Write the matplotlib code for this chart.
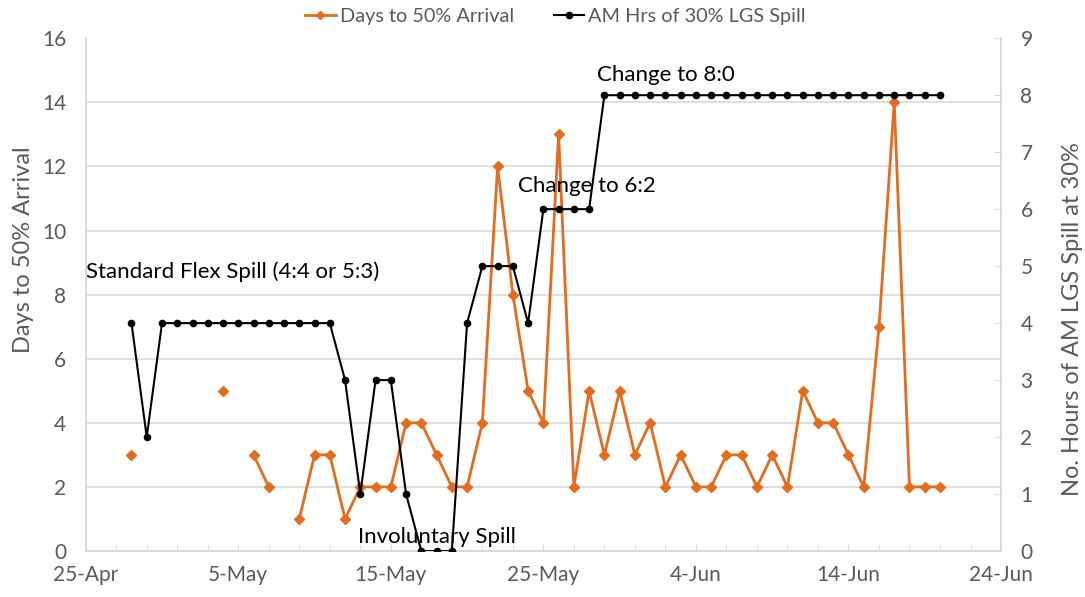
import matplotlib
matplotlib.use("Agg")
import matplotlib.pyplot as plt
import matplotlib.dates as mdates
from matplotlib.lines import Line2D
import numpy as np
import pandas as pd

plt.rcParams['font.family'] = ['Lato', 'DejaVu Sans']

start_date = "2019-04-28"
end_date = "2019-06-20"
dates = pd.date_range(start_date, end_date, freq="D")

nan = np.nan
days_to_50 = [3, nan, nan,
              nan, nan, nan, 5, nan, 3, 2, nan, 1, 3, 3, 1, 2, 2, 2, 4, 4, 3, 2, 2, 4, 12, 8, 5, 4, 13, 2, 5, 3, 5, 3,
              4, 2, 3, 2, 2, 3, 3, 2, 3, 2, 5, 4, 4, 3, 2, 7, 14, 2, 2, 2]
am_hours = [4, 2, 4,
            4, 4, 4, 4, 4, 4, 4, 4, 4, 4, 4, 3, 1, 3, 3, 1, 0, 0, 0, 4, 5, 5, 5, 4, 6, 6, 6, 6, 8, 8, 8,
            8, 8, 8, 8, 8, 8, 8, 8, 8, 8, 8, 8, 8, 8, 8, 8, 8, 8, 8, 8]

series_names = ["Days to 50% Arrival", "AM Hrs of 30% LGS Spill"]
left_label = "Days to 50% Arrival"
right_label = "No. Hours of AM LGS Spill at 30%"
annotations = [("Standard Flex Spill (4:4 or 5:3)", "2019-04-25", 8.7, 'left'),
               ("Involuntary Spill", "2019-05-18", 0.45, 'center'),
               ("Change to 6:2", "2019-05-23 08:00", 11.4, 'left'),
               ("Change to 8:0", "2019-05-28 12:00", 14.85, 'left')]

orange = '#E36C1E'
grid_c = '#D9D9D9'
tick_c = '#595959'

fig = plt.figure(figsize=(10.85, 5.97), dpi=100)
ax = fig.add_axes([0.079, 0.077, 0.9226 - 0.079, 0.936 - 0.077])
ax2 = ax.twinx()

ax.plot(dates, days_to_50, color=orange, lw=2.0, marker='D', ms=5, zorder=3)
ax2.plot(dates, am_hours, color='black', lw=1.5, marker='o', ms=4.5, zorder=3)

x0 = pd.Timestamp("2019-04-25")
x1 = pd.Timestamp("2019-06-24")
ax.set_xlim(x0, x1)
ax.set_ylim(0, 16)
ax2.set_ylim(0, 9)
ax.set_yticks(np.arange(0, 17, 2))
ax2.set_yticks(np.arange(0, 10, 1))
ax.set_xticks(pd.date_range(x0, x1, freq="10D"))
ax.set_xticks(pd.date_range(x0, x1, freq="2D"), minor=True)
ax.xaxis.set_major_formatter(mdates.DateFormatter('%-d-%b'))

ax.yaxis.grid(True, color=grid_c, lw=1.2)
ax.set_axisbelow(True)
for gl in ax.get_ygridlines()[-1:]:
    gl.set_visible(False)

for a in (ax, ax2):
    a.spines['top'].set_visible(False)
    for s in ['left', 'right', 'bottom']:
        a.spines[s].set_color(grid_c)
        a.spines[s].set_linewidth(1.2)

ax.tick_params(axis='y', length=0, labelsize=15, labelcolor=tick_c, pad=14)
ax.tick_params(axis='x', which='major', direction='in', length=5, color=grid_c, labelsize=15, labelcolor=tick_c, pad=10)
ax.tick_params(axis='x', which='minor', direction='in', length=5, color=grid_c)
ax2.tick_params(axis='y', direction='in', length=5, color=grid_c, labelsize=15, labelcolor=tick_c, pad=14)

ax.set_ylabel(left_label, fontsize=17, color=tick_c)
ax2.set_ylabel(right_label, fontsize=17, color=tick_c)
ax.yaxis.set_label_coords(-0.057, 0.587)
ax2.yaxis.set_label_coords(1.067, 0.452)

for txt, d, y, ha in annotations:
    ax.text(pd.Timestamp(d), y, txt, fontsize=16, color='black', ha=ha, va='center', zorder=5)

handles = [Line2D([0], [0], color=orange, lw=2.0, marker='D', ms=4.5),
           Line2D([0], [0], color='black', lw=1.5, marker='o', ms=4.5)]
fig.legend(handles, series_names, loc='center', bbox_to_anchor=(0.512, 0.972), ncol=2, frameon=False,
           fontsize=14.3, labelcolor=tick_c, handlelength=1.55, handletextpad=0.2, columnspacing=2.0)

fig.savefig("out.png", dpi=100)
